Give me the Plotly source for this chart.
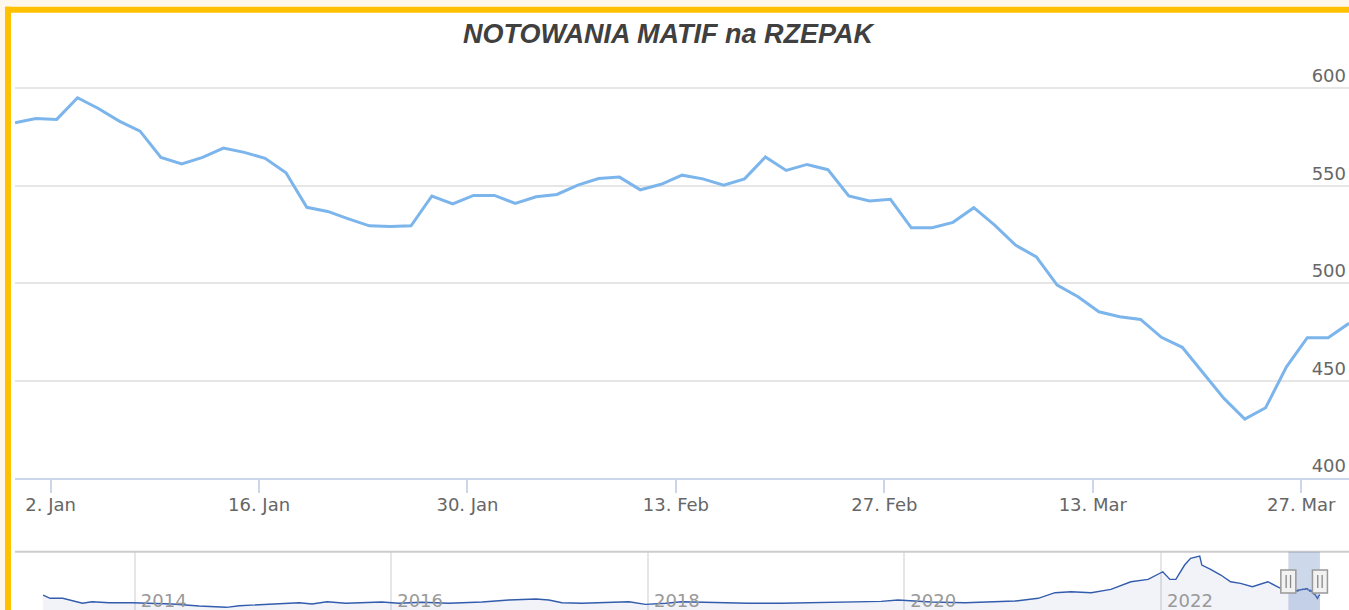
import plotly.graph_objects as go

# ---------------- data ----------------
title_text = "NOTOWANIA MATIF na RZEPAK"

main_dates = [
    "2022-12-29", "2022-12-30",
    "2023-01-02", "2023-01-03", "2023-01-04", "2023-01-05", "2023-01-06",
    "2023-01-09", "2023-01-10", "2023-01-11", "2023-01-12", "2023-01-13",
    "2023-01-16", "2023-01-17", "2023-01-18", "2023-01-19", "2023-01-20",
    "2023-01-23", "2023-01-24", "2023-01-25", "2023-01-26", "2023-01-27",
    "2023-01-30", "2023-01-31", "2023-02-01", "2023-02-02", "2023-02-03",
    "2023-02-06", "2023-02-07", "2023-02-08", "2023-02-09", "2023-02-10",
    "2023-02-13", "2023-02-14", "2023-02-15", "2023-02-16", "2023-02-17",
    "2023-02-20", "2023-02-21", "2023-02-22", "2023-02-23", "2023-02-24",
    "2023-02-27", "2023-02-28", "2023-03-01", "2023-03-02", "2023-03-03",
    "2023-03-06", "2023-03-07", "2023-03-08", "2023-03-09", "2023-03-10",
    "2023-03-13", "2023-03-14", "2023-03-15", "2023-03-16", "2023-03-17",
    "2023-03-20", "2023-03-21", "2023-03-22", "2023-03-23", "2023-03-24",
    "2023-03-27", "2023-03-28", "2023-03-29",
]
main_values = [
    582.4, 584.6,
    584.1, 595.2, 589.7, 583.2, 578.1,
    564.6, 561.3, 564.6, 569.4, 567.2,
    564.1, 556.7, 539.0, 536.9, 533.1,
    529.5, 529.2, 529.5, 544.8, 540.7,
    545.1, 545.1, 541.0, 544.4, 545.6,
    550.4, 553.8, 554.5, 548.0, 550.8,
    555.5, 553.6, 550.4, 553.6, 564.8,
    557.9, 561.0, 558.3, 544.8, 542.2,
    543.1, 528.5, 528.5, 531.3, 538.8,
    529.9, 519.6, 513.6, 499.1, 493.1,
    485.4, 482.9, 481.5, 472.3, 467.2,
    453.8, 441.0, 430.4, 436.2, 457.2,
    472.1, 472.1, 479.5,
]
data_time = "07:00"  # time-of-day stamp of the quotes

x_tick_dates = ["2023-01-02", "2023-01-16", "2023-01-30", "2023-02-13",
                "2023-02-27", "2023-03-13", "2023-03-27"]
y_ticks = [400, 450, 500, 550, 600]

# long history shown in the navigator (before the selected window)
nav_hist_dates = [
    "2013-04-15", "2013-05-05", "2013-06-10", "2013-08-05", "2013-09-01", "2013-10-20", "2013-12-25",
    "2014-02-12", "2014-04-18", "2014-07-03", "2014-09-19", "2014-10-26",
    "2015-01-10", "2015-04-14", "2015-05-21", "2015-07-02", "2015-08-25", "2015-10-21", "2015-12-05",
    "2016-01-23", "2016-03-28", "2016-06-13", "2016-09-16", "2016-12-01",
    "2017-02-16", "2017-03-25", "2017-05-01", "2017-06-27", "2017-10-02", "2017-11-08", "2017-12-25",
    "2018-02-21", "2018-04-07", "2018-07-12", "2018-10-14",
    "2019-01-16", "2019-04-22", "2019-07-25", "2019-10-27", "2019-12-14",
    "2020-03-17", "2020-06-22", "2020-09-24", "2020-11-11",
    "2021-01-16", "2021-03-05", "2021-04-20", "2021-06-16", "2021-08-11", "2021-10-07", "2021-11-25",
    "2022-01-06", "2022-01-26", "2022-02-12", "2022-03-09", "2022-03-26", "2022-04-21", "2022-04-27",
    "2022-05-22", "2022-06-20", "2022-07-18", "2022-08-15", "2022-09-18", "2022-11-01", "2022-12-07",
]
nav_hist_values = [
    477, 433, 433, 366, 387, 374, 374,
    366, 356, 329, 312, 333,
    352, 374, 356, 387, 366, 379, 383,
    366, 379, 366, 383, 410,
    423, 410, 374, 366, 383, 387, 352,
    366, 387, 374, 366,
    366, 374, 387, 392, 410,
    383, 374, 387, 396,
    433, 508, 521, 508, 553, 655, 687,
    789, 687, 687, 879, 969, 1000, 879,
    822, 745, 655, 634, 588, 655, 567,
]
nav_tick_dates = ["2014-01-01", "2016-01-01", "2018-01-01", "2020-01-01", "2022-01-01"]

# ---------------- layout helpers (pixel -> paper) ----------------
W, H = 1349, 610
ML, MR, MT, MB = 15, 0, 65, 0
PW, PH = W - ML - MR, H - MT - MB


def px_x(px):
    return (px - ML) / PW


def px_y(py):
    return (H - MB - py) / PH


main_x = [f"{d} {data_time}" for d in main_dates]
nav_x = nav_hist_dates + main_x
nav_y = nav_hist_values + main_values

FONT = "DejaVu Sans"

fig = go.Figure()

fig.add_trace(go.Scatter(
    x=main_x, y=main_values, mode="lines",
    line=dict(color="#7cb5ec", width=3),
    xaxis="x", yaxis="y", hoverinfo="skip", showlegend=False,
))

fig.add_trace(go.Scatter(
    x=nav_x, y=nav_y, mode="lines",
    line=dict(color="#335cad", width=1.4),
    fill="tozeroy", fillcolor="rgba(51,92,173,0.07)",
    xaxis="x2", yaxis="y2", hoverinfo="skip", showlegend=False,
))

shapes = []
# cream outside strip
shapes.append(dict(type="rect", xref="paper", yref="paper",
                   x0=px_x(0), x1=px_x(5), y0=px_y(H), y1=px_y(0),
                   fillcolor="#FFF8EA", line=dict(width=0), layer="above"))
shapes.append(dict(type="rect", xref="paper", yref="paper",
                   x0=px_x(0), x1=px_x(W), y0=px_y(6.7), y1=px_y(0),
                   fillcolor="#FFF8EA", line=dict(width=0), layer="above"))
# yellow frame
shapes.append(dict(type="rect", xref="paper", yref="paper",
                   x0=px_x(5), x1=px_x(11), y0=px_y(H), y1=px_y(6.7),
                   fillcolor="#FFC000", line=dict(width=0), layer="above"))
shapes.append(dict(type="rect", xref="paper", yref="paper",
                   x0=px_x(5), x1=px_x(W), y0=px_y(12.7), y1=px_y(6.7),
                   fillcolor="#FFC000", line=dict(width=0), layer="above"))
# navigator top outline
shapes.append(dict(type="line", xref="x2 domain", yref="y2 domain",
                   x0=0, x1=1, y0=1, y1=1,
                   line=dict(color="#cccccc", width=2), layer="above"))
# navigator selected-range mask
shapes.append(dict(type="rect", xref="x2", yref="y2 domain",
                   x0=main_x[0], x1=main_x[-1], y0=0, y1=1,
                   fillcolor="rgba(102,133,194,0.32)", line=dict(width=0), layer="above"))
# navigator handles
for anchor in (main_x[0], main_x[-1]):
    shapes.append(dict(type="rect", xref="x2", yref="paper",
                       xsizemode="pixel", xanchor=anchor, x0=-7.5, x1=7.5,
                       y0=px_y(593), y1=px_y(570),
                       fillcolor="#f2f2f2", line=dict(color="#999999", width=1.5),
                       layer="above"))
    for off in (-2.2, 2.2):
        shapes.append(dict(type="line", xref="x2", yref="paper",
                           xsizemode="pixel", xanchor=anchor, x0=off, x1=off,
                           y0=px_y(588), y1=px_y(575),
                           line=dict(color="#888888", width=1.3), layer="above"))

fig.update_layout(
    width=W, height=H,
    margin=dict(l=ML, r=MR, t=MT, b=MB, pad=0),
    paper_bgcolor="white", plot_bgcolor="white",
    showlegend=False,
    hovermode=False,
    font=dict(family=FONT, color="#666666"),
    shapes=shapes,
    annotations=[dict(
        text=title_text, xref="paper", yref="paper",
        x=px_x(669), y=px_y(34), xanchor="center", yanchor="middle",
        showarrow=False,
        font=dict(family="Liberation Sans", size=27, color="#404040",
                  weight="bold", style="italic"),
    )],
    xaxis=dict(
        type="date", anchor="y", domain=[0, 1],
        range=[main_x[0], main_x[-1]],
        rangebreaks=[dict(bounds=["sat", "mon"])],
        tickmode="array", tickvals=x_tick_dates, tickformat="%-d. %b",
        ticks="outside", ticklen=13, tickwidth=1.5, tickcolor="#ccd6eb",
        ticklabelstandoff=-4,
        showline=True, linecolor="#ccd6eb", linewidth=2,
        showgrid=False, zeroline=False,
        tickfont=dict(family=FONT, size=18, color="#666666"),
    ),
    yaxis=dict(
        anchor="x", side="right", domain=[px_y(478.3), 1],
        range=[400, 612], tickmode="array", tickvals=y_ticks,
        ticklabelposition="inside top", ticks="",
        showgrid=True, gridcolor="#e6e6e6", gridwidth=2,
        zeroline=False, showline=False,
        tickfont=dict(family=FONT, size=18, color="#666666"),
    ),
    xaxis2=dict(
        type="date", anchor="y2", domain=[0, 1],
        range=["2013-01-25", "2023-06-20"],
        tickmode="array", tickvals=nav_tick_dates, tickformat="%Y",
        ticklabelposition="inside right", ticks="",
        ticklabelstandoff=-7, ticklabelshift=6,
        showgrid=True, gridcolor="#e6e6e6", gridwidth=2,
        zeroline=False, showline=False,
        tickfont=dict(family=FONT, size=18, color="#999999"),
    ),
    yaxis2=dict(
        anchor="x2", domain=[0, px_y(551.7)],
        range=[276, 1058], visible=False, showgrid=False, zeroline=False,
    ),
)

fig.write_html(
    "out.html",
    config={"displayModeBar": False},
    post_script="document.body.style.margin='0';document.body.style.overflow='hidden';",
)
